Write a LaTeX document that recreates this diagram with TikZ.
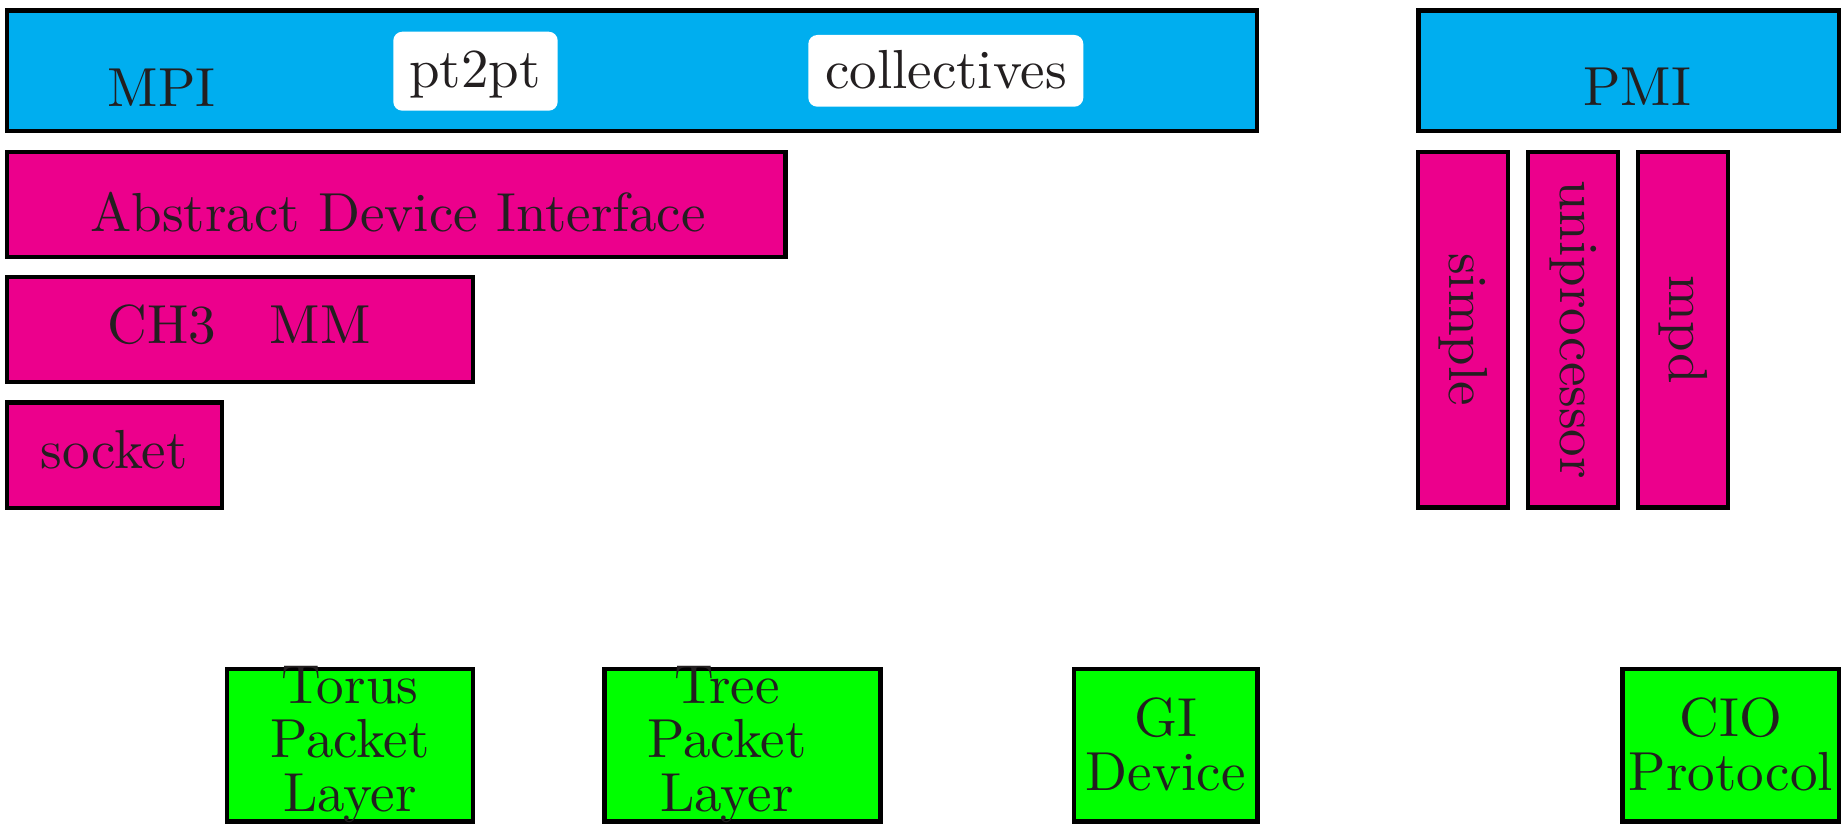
\documentclass[tikz,border=0pt]{standalone}
% Latin Modern at its 10pt design, scaled up for the large labels
\DeclareFontFamily{TU}{lmten}{}
\DeclareFontShape{TU}{lmten}{m}{n}{<-> "[lmroman10-regular]:+tlig;"}{}
\definecolor{layercyan}{RGB}{0,174,239}
\definecolor{layermagenta}{RGB}{236,0,140}
\definecolor{layergreen}{RGB}{0,255,0}
\definecolor{ink}{RGB}{35,31,32}
\tikzset{
  layer/.style={draw=black, line width=4.3pt, inner sep=0pt, outer sep=0pt},
  api/.style={layer, fill=layercyan},
  impl/.style={layer, fill=layermagenta},
  hw/.style={layer, fill=layergreen},
  tag/.style={fill=white, rounded corners=9pt, inner sep=0pt},
  lbl/.style={text=ink, inner sep=0pt,
    font=\fontfamily{lmten}\fontsize{55}{53.7}\selectfont},
}
\begin{document}
\begin{tikzpicture}[x=1pt, y=-1pt]
\useasboundingbox (0,0) rectangle (1843,824);

% interface layer
\node[api, minimum width=1250.1pt, minimum height=120.5pt] (mpi) at (632.25,70.75) {};
\node[api, minimum width=420.5pt, minimum height=120.5pt] (pmi) at (1628.75,70.75) {};
\node[tag, minimum width=164.4pt, minimum height=79pt] (p2pbox) at (475.5,71.2) {};
\node[tag, minimum width=275pt, minimum height=71.7pt] (collbox) at (945.8,70.85) {};

\node[lbl, anchor=base] (mpitext) at (161.5,106.7) {MPI};
\node[lbl, anchor=base] (pmitext) at (1637,106) {PMI};
\node[lbl, anchor=base] (p2ptext) at (475,87.5) {pt2pt};
\node[lbl, anchor=base] (colltext) at (946,89) {collectives};

% device stack
\node[impl, minimum width=778.3pt, minimum height=105.5pt] (adi) at (396.35,204.45) {};
\node[impl, minimum width=466.1pt, minimum height=105pt] (ch3) at (240.25,329.7) {};
\node[impl, minimum width=214.5pt, minimum height=105.3pt] (sock) at (114.45,455.15) {};

\node[lbl, anchor=base] (aditext) at (398,231) {Abstract Device Interface};
\node[lbl, anchor=base] (ch3text) at (239,343) {CH3\hspace{54pt}MM};
\node[lbl, anchor=base] (socktext) at (114,468.3) {socket};

% process manager implementations
\node[impl, minimum width=90pt, minimum height=355.8pt] (simple) at (1463.3,329.6) {};
\node[impl, minimum width=90pt, minimum height=355.8pt] (unip) at (1573.3,329.6) {};
\node[impl, minimum width=89.4pt, minimum height=355.8pt] (mpd) at (1683,329.6) {};

\node[lbl, rotate=-90] (simpletext) at (simple.center) {simple};
\node[lbl, rotate=-90] (uniptext) at (unip.center) {uniprocessor};
\node[lbl, rotate=-90] (mpdtext) at (mpd.center) {mpd};

% hardware layer
\node[hw, minimum width=246.6pt, minimum height=152.6pt] (torus) at (350,745.3) {};
\node[hw, minimum width=275.8pt, minimum height=152.6pt] (tree) at (742.5,745.3) {};
\node[hw, minimum width=183.7pt, minimum height=152.6pt] (gi) at (1165.65,745.3) {};
\node[hw, minimum width=216.5pt, minimum height=152.6pt] (cio) at (1730.75,745.3) {};

\node[lbl, align=center] (torustext) at (350,744.55) {Torus\\Packet\\Layer};
\node[lbl, align=center] (treetext) at (727,744.55) {Tree\\Packet\\Layer};
\node[lbl, align=center] (gitext) at (1165.7,744.2) {GI\\Device};
\node[lbl, align=center] (ciotext) at (1730.8,744.2) {CIO\\Protocol};
\end{tikzpicture}
\end{document}
